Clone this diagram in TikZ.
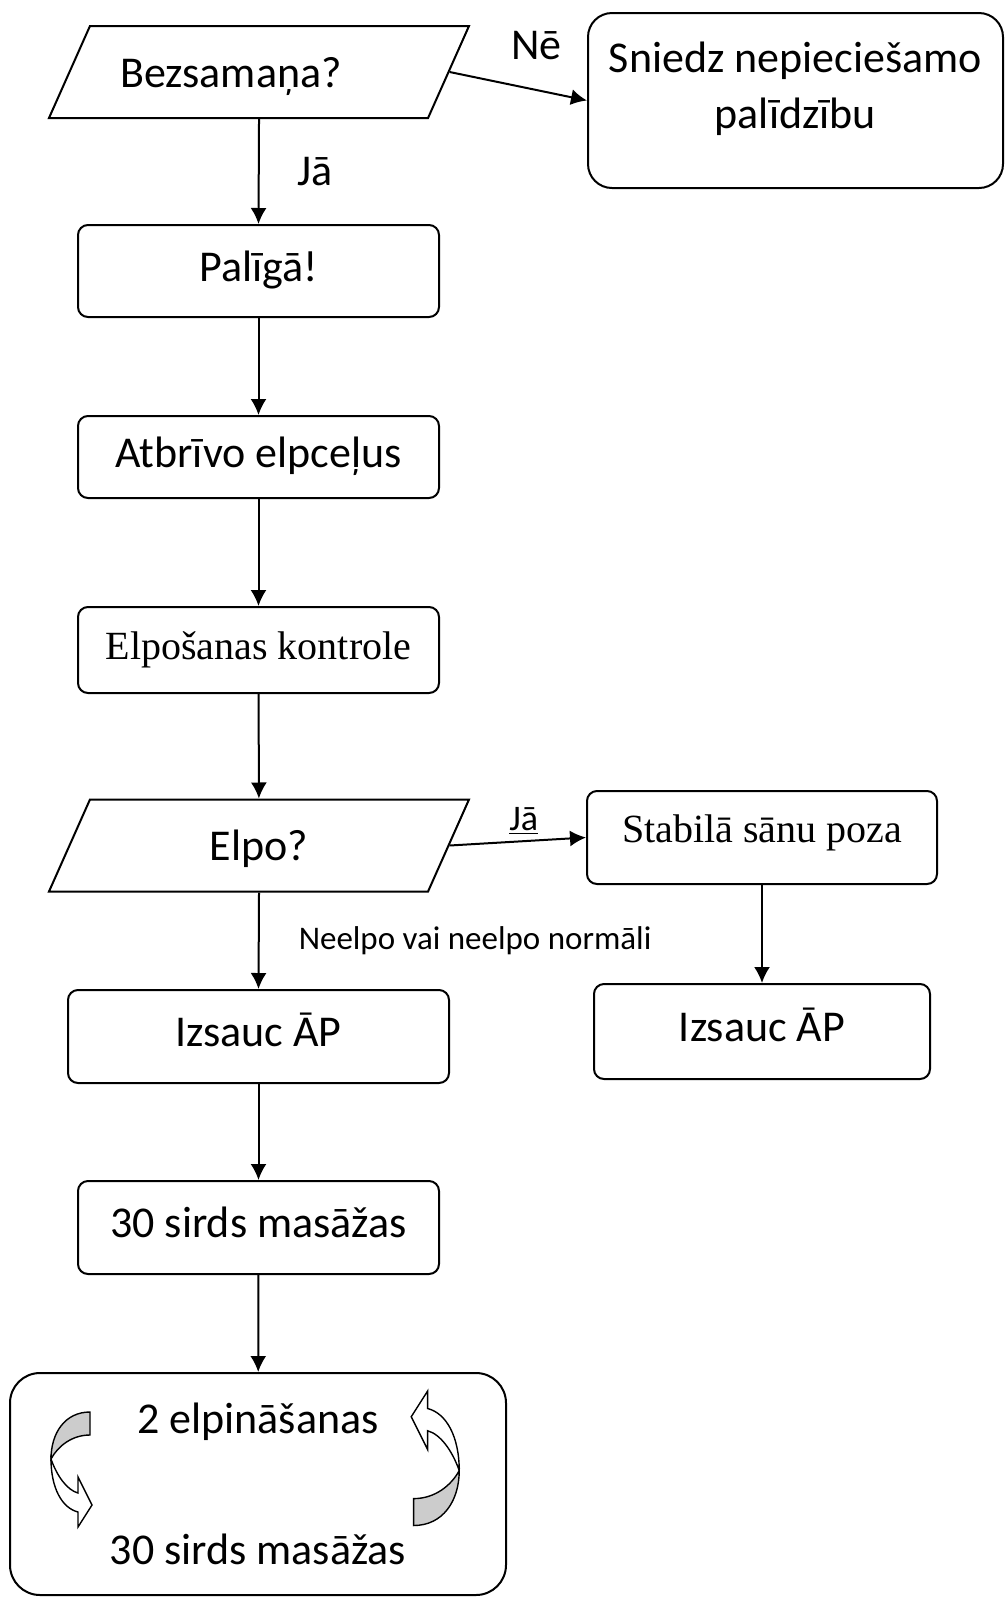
\documentclass[tikz,border=0pt]{standalone}
\usepackage{fontspec}
\setmainfont{Carlito}
\newfontfamily\timesfont{Liberation Serif}
\usetikzlibrary{positioning,arrows.meta,shapes.geometric}

\begin{document}
\begin{tikzpicture}[x=0.5pt,y=-0.5pt,>={Latex[length=8pt,width=8pt]},
	every node/.style={font=\fontsize{22}{26}\selectfont},
	frame/.style={draw,line width=1pt,rounded corners=5pt,
		minimum width=180.5pt,minimum height=46pt},
	stepbox/.style={frame,text height=15pt,text depth=5pt},
	timesbox/.style={stepbox,font=\timesfont\fontsize{20}{24}\selectfont,text height=14pt},
	question/.style={draw,line width=1pt,trapezium,trapezium left angle=66,
		trapezium right angle=114,trapezium stretches body=true,
		minimum width=210pt,inner ysep=15.5pt,text height=15pt,text depth=0pt},
	lbl/.style={inner sep=0pt},
	link/.style={->,line width=1pt}]
	\useasboundingbox (0,0) rectangle (1006,1597);

	\node[question] (bez) at (259,72) {Bezsamaņa?\hspace*{28pt}};
	\node[frame,rounded corners=12pt,minimum width=207.5pt,minimum height=87.5pt,
		  align=center,font=\fontsize{22}{28}\selectfont] 
		  (snd) at (795.5,100.5) {Sniedz nepieciešamo\\palīdzību\\[-12.6pt]\mbox{}};
	\node[stepbox] (pal) at (258.5,271) {Palīgā!};
	\node[stepbox,minimum height=41pt] (atb) at (258.5,457) {Atbrīvo elpceļus};
	\node[timesbox,minimum height=43pt] (kon) at (258.5,650) {Elpošanas kontrole};
	\node[question] (elpo) at (259,845.5) {Elpo?};
	\node[timesbox,minimum width=175pt,minimum height=46.5pt,text depth=9pt] 
		  (stab) at (762,837.5) {Stabilā sānu poza};
	\node[stepbox,minimum width=190.5pt,minimum height=46.5pt] 
		  (izsL) at (258.5,1036.5) {Izsauc ĀP};
	\node[stepbox,minimum width=168pt,minimum height=47.5pt] 
		  (izsR) at (762,1031.5) {Izsauc ĀP};
	\node[stepbox,minimum height=46.5pt] (mas) at (258.5,1227.5) {30 sirds masāžas};
	\node[frame,rounded corners=15pt,minimum width=248pt,minimum height=111pt,
		  align=center] 
		  (cikl) at (258,1484) {2 elpināšanas\\[39.5pt]30 sirds masāžas};

	\draw[link] (bez.south) -- node[lbl,right=19pt]{Jā} (pal.north);
	\draw[link] (bez.east) -- node[lbl,above=12.5pt,xshift=9pt]{Nē} (snd.west);
	\draw[link] (pal) -- (atb);
	\draw[link] (atb) -- (kon);
	\draw[link] (kon) -- (elpo);
	\draw[link] (elpo.east) -- node[lbl,above=3pt,xshift=3pt,
		font=\fontsize{18}{20}\selectfont]{\underline{Jā}} (stab.west);
	\draw[link] (elpo.south) -- node[lbl,right=19.5pt,
		font=\fontsize{16.5}{20}\selectfont]{Neelpo vai neelpo normāli} (izsL.north);
	\draw[link] (stab) -- (izsR);
	\draw[link] (izsL) -- (mas);
	\draw[link] (mas) -- (cikl);

	% curved arrows inside the loop box
	\foreach \s/\r/\cx/\cy in {1/0/70/1468, 1.17/180/437/1460}{
		\begin{scope}[shift={(\cx,\cy)},rotate=\r,scale=\s,line width=0.7pt]
			\filldraw[fill=gray!40] (20,-56) -- (20,-33) .. controls (2,-33) and (-12,-22) .. (-19,-9)
				.. controls (-19,-35) and (-5,-56) .. (20,-56) -- cycle;
			\filldraw[fill=white] (-19,-9) .. controls (-13,8) and (-3,22) .. (8,25) -- (8,9) -- (22,37)
				-- (8,59) -- (8,44) .. controls (-8,40) and (-19,20) .. (-19,-9) -- cycle;
		\end{scope}
	}
\end{tikzpicture}
\end{document}
